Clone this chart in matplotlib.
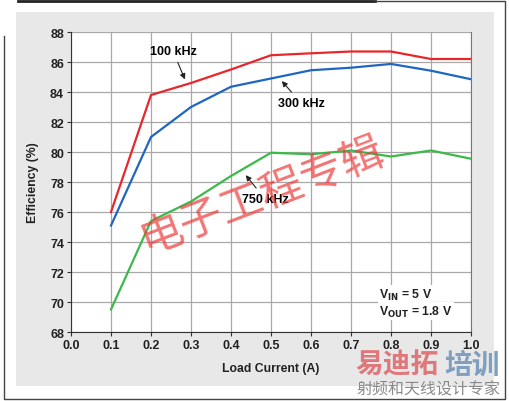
import matplotlib.pyplot as plt
from matplotlib.patches import Rectangle
from matplotlib.lines import Line2D

plt.rcParams['font.family'] = ['Liberation Sans', 'Noto Sans CJK SC', 'DejaVu Sans']
plt.rcParams['mathtext.default'] = 'bf'

# load current (A)
load = [0.1, 0.2, 0.3, 0.4, 0.5, 0.6, 0.7, 0.8, 0.9, 1.0]
# efficiency (%) per switching frequency
eff_100k = [76.0, 83.8, 84.6, 85.5, 86.45, 86.58, 86.7, 86.7, 86.2, 86.2]
eff_300k = [75.1, 81.0, 83.0, 84.35, 84.9, 85.45, 85.62, 85.87, 85.42, 84.85]
eff_750k = [69.5, 75.4, 76.7, 78.4, 79.95, 79.85, 80.1, 79.7, 80.1, 79.55]

xticks = [0.0, 0.1, 0.2, 0.3, 0.4, 0.5, 0.6, 0.7, 0.8, 0.9, 1.0]
yticks = [68, 70, 72, 74, 76, 78, 80, 82, 84, 86, 88]

fig = plt.figure(figsize=(5.1, 4.02), dpi=100)
fig.patch.set_facecolor('white')

# grey panel and scan frame
fig.patches.append(Rectangle((16/510, 1 - 387/402), 478/510, 374/402,
                             transform=fig.transFigure, facecolor='#e8e8e8',
                             edgecolor='none', zorder=-5))
fig.lines.append(Line2D([18/510, 375/510], [1 - 1.5/402, 1 - 1.5/402],
                        transform=fig.transFigure, color='#222222', lw=2, zorder=-4))
fig.lines.append(Line2D([375/510, 505/510, 505/510, 4/510, 4/510],
                        [1 - 1.5/402, 1 - 1.5/402, 1 - 400/402, 1 - 400/402, 1 - 37/402],
                        transform=fig.transFigure, color='#444444', lw=1, zorder=-4))

ax = fig.add_axes([71/510, 1 - 333/402, 400/510, 300/402])
ax.set_facecolor('white')

ax.plot(load, eff_100k, color='#e8262b', lw=1.6, zorder=3)
ax.plot(load, eff_300k, color='#1f66c2', lw=1.6, zorder=3)
ax.plot(load, eff_750k, color='#3cb94a', lw=1.6, zorder=3)

ax.set_xlim(0, 1.0)
ax.set_ylim(68, 88)
ax.set_xticks(xticks)
ax.set_xticklabels(['%.1f' % v for v in xticks])
ax.set_yticks(yticks)
ax.grid(True, color='#a8a8a8', lw=0.9)
ax.set_axisbelow(True)
ax.spines['top'].set_visible(False)
ax.spines['right'].set_color('#777777')
ax.spines['left'].set_color('#333333')
ax.spines['bottom'].set_color('#333333')
ax.tick_params(direction='out', length=3, width=0.8, colors='#333333',
               labelsize=9, pad=2)
for lab in ax.get_xticklabels() + ax.get_yticklabels():
    lab.set_fontweight('bold')
    lab.set_color('#222222')

ax.set_xlabel('Load Current (A)', fontsize=8.8, fontweight='bold', color='#222222', labelpad=8)
ax.set_ylabel('Efficiency (%)', fontsize=8.8, fontweight='bold', color='#222222', labelpad=8)

arrow = dict(arrowstyle='-|>', color='#222222', lw=0.8, mutation_scale=8)
ax.annotate('100 kHz', xy=(0.2875, 84.67), xytext=(0.255, 86.73), fontsize=9,
            fontweight='bold', ha='center', va='center', arrowprops=arrow, zorder=5)
ax.annotate('300 kHz', xy=(0.5225, 84.87), xytext=(0.575, 83.27), fontsize=9,
            fontweight='bold', ha='center', va='center', arrowprops=arrow, zorder=5)
ax.annotate('750 kHz', xy=(0.4325, 78.6), xytext=(0.485, 76.87), fontsize=9,
            fontweight='bold', ha='center', va='center', arrowprops=arrow, zorder=5)

ax.text(0.77, 70.53, r'V$_{\mathbf{IN}}$ = 5 V', fontsize=8.8, fontweight='bold',
        va='center', ha='left', color='#222222', zorder=5,
        bbox=dict(facecolor='white', edgecolor='none', pad=1))
ax.text(0.77, 69.4, r'V$_{\mathbf{OUT}}$ = 1.8 V', fontsize=8.8, fontweight='bold',
        va='center', ha='left', color='#222222', zorder=5,
        bbox=dict(facecolor='white', edgecolor='none', pad=1))

# watermarks
fig.text(262/510, 1 - 196/402, '电子工程专辑', fontsize=31, fontweight='medium',
         color='#ee3b3b', alpha=0.7, rotation=21, ha='center', va='center',
         family=['Noto Sans CJK SC'], zorder=10)
fig.text(355/510, 1 - 366/402, '易迪拓', fontsize=20, fontweight='bold',
         color='#e0787b', ha='left', va='center', family=['Noto Sans CJK SC'], zorder=10)
fig.text(444/510, 1 - 366/402, '培训', fontsize=20, fontweight='bold',
         color='#7f9fc0', ha='left', va='center', family=['Noto Sans CJK SC'], zorder=10)
fig.text(356/510, 1 - 390/402, '射频和天线设计专家', fontsize=11.5,
         color='#8a8a8a', ha='left', va='center', family=['Noto Sans CJK SC'], zorder=10)

fig.savefig('out.png', dpi=100)
